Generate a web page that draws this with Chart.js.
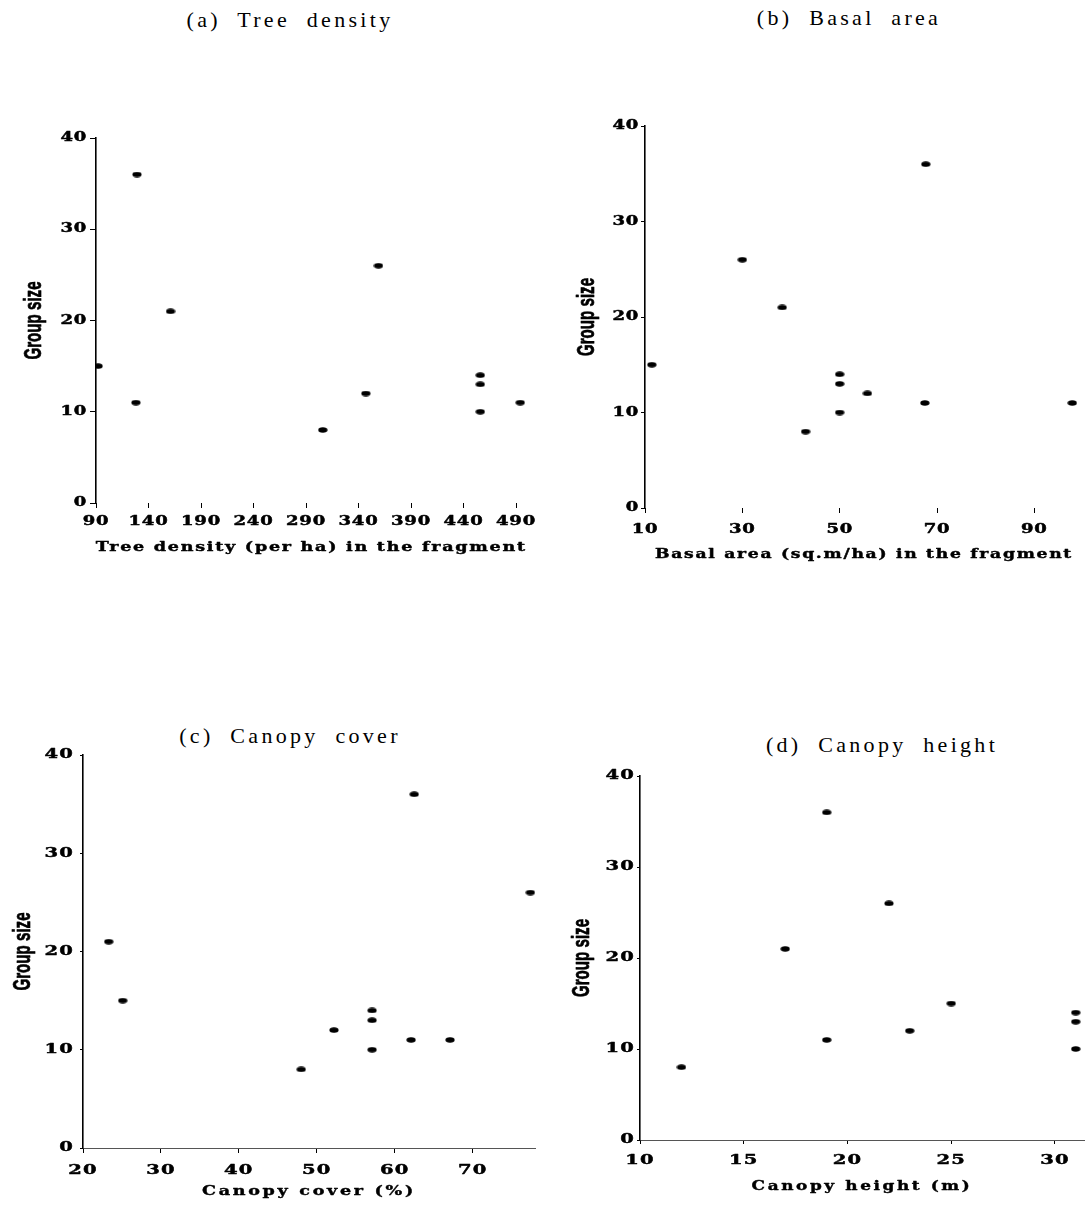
<!DOCTYPE html>
<html>
<head>
<meta charset="utf-8">
<script src="https://cdn.jsdelivr.net/npm/chart.js@4.4.1/dist/chart.umd.min.js"></script>
<style>
  html, body { margin: 0; padding: 0; background: #fff; }
  body { position: relative; width: 1089px; height: 1210px; overflow: hidden; }
  .panel { position: absolute; }
  .title {
    position: absolute; transform: translate(-50%, -50%);
    font-family: 'Liberation Serif', 'Times New Roman', serif;
    font-size: 22px; letter-spacing: 3.3px; word-spacing: 8px;
    white-space: nowrap; color: #000;
  }
</style>
</head>
<body>
<div class="title" style="left:290px; top:20px;">(a) Tree density</div>
<div class="title" style="left:849px; top:18px;">(b) Basal area</div>
<div class="title" style="left:290px; top:736px;">(c) Canopy cover</div>
<div class="title" style="left:882px; top:745px;">(d) Canopy height</div>

<div class="panel" style="left:0px; top:0px; width:545px; height:600px;"><canvas id="chartA"></canvas></div>
<div class="panel" style="left:550px; top:0px; width:539px; height:600px;"><canvas id="chartB"></canvas></div>
<div class="panel" style="left:0px; top:610px; width:545px; height:600px;"><canvas id="chartC"></canvas></div>
<div class="panel" style="left:550px; top:610px; width:539px; height:600px;"><canvas id="chartD"></canvas></div>

<script>
// ---- data: habitat variable of each fragment vs. group size ----
const treeDensity  = [92, 129, 128, 161, 306, 347, 359, 456, 456, 456, 494];
const groupTree    = [15, 36, 11, 21, 8, 12, 26, 14, 13, 10, 11];

const basalArea    = [11.4, 30, 38.2, 43, 50, 50, 50, 55.7, 67.7, 67.5, 97.8];
const groupBasal   = [15, 26, 21, 8, 14, 13, 10, 12, 36, 11, 11];

const canopyCover  = [23.3, 25.1, 48, 52.2, 57.1, 57.1, 57.1, 62.1, 62.5, 67.1, 77.4];
const groupCover   = [21, 15, 8, 12, 14, 13, 10, 11, 36, 11, 26];

const canopyHeight = [12, 17, 19, 19, 22, 23, 25, 31, 31, 31];
const groupHeight  = [8, 21, 36, 11, 26, 12, 15, 14, 13, 10];

// ---- tick labels ----
const ticksTree   = [90, 140, 190, 240, 290, 340, 390, 440, 490];
const ticksBasal  = [10, 30, 50, 70, 90];
const ticksCover  = [20, 30, 40, 50, 60, 70];
const ticksHeight = [10, 15, 20, 25, 30];
const ticksGroup  = [0, 10, 20, 30, 40];

// small filled ellipse used as the marker
const dot = document.createElement('canvas');
dot.width = 10; dot.height = 6;
(function () {
  const c = dot.getContext('2d');
  c.fillStyle = '#000';
  c.beginPath();
  c.ellipse(5, 3, 4.6, 2.8, 0, 0, Math.PI * 2);
  c.fill();
})();

// Text on these charts is horizontally stretched (wide bold serif labels)
// or squeezed (condensed axis title) and drawn extra heavy:
// ctx.$sx holds the width factor, ctx.$heavy the extra outline width.
function patchContext(ctx) {
  if (ctx.$patched) return;
  const fill = ctx.fillText.bind(ctx);
  ctx.$sx = 1;
  ctx.$heavy = 0;
  ctx.fillText = function (t, x, y) {
    ctx.save();
    ctx.translate(x, y);
    ctx.scale(ctx.$sx, 1);
    fill(t, 0, 0);
    if (ctx.$heavy > 0) {
      ctx.lineWidth = ctx.$heavy;
      ctx.lineJoin = 'round';
      ctx.strokeStyle = ctx.fillStyle;
      ctx.strokeText(t, 0, 0);
    }
    ctx.restore();
  };
  ctx.$patched = true;
}

function wrapTitle(scale, spacing, sx, heavy) {
  const orig = scale.drawTitle;
  scale.drawTitle = function () {
    const ctx = this.ctx;
    const prev = [ctx.letterSpacing, ctx.$sx, ctx.$heavy];
    ctx.letterSpacing = spacing;
    ctx.$sx = sx;
    ctx.$heavy = heavy;
    orig.call(this);
    [ctx.letterSpacing, ctx.$sx, ctx.$heavy] = prev;
  };
  scale.$wrapped = true;
}

const textStylePlugin = {
  id: 'textStyle',
  beforeDraw(chart, args, opts) {
    const ctx = chart.ctx;
    patchContext(ctx);
    ctx.letterSpacing = opts.tickSpacing;
    ctx.$sx = opts.tickSx;
    ctx.$heavy = 0.45;
    const { x, y } = chart.scales;
    if (!y.$wrapped) {
      wrapTitle(y, '0px', 0.63, 0.7);
      wrapTitle(x, opts.titleSpacing, opts.titleSx, 0.4);
    }
  },
  afterDraw(chart) {
    const ctx = chart.ctx;
    ctx.$sx = 1;
    ctx.$heavy = 0;
    ctx.letterSpacing = '0px';
  }
};

const serifBold = "'DejaVu Serif', 'Liberation Serif', serif";
const sansBold = "'Liberation Sans', Arial, sans-serif";

function makePanel(id, xs, ys, xTicks, xMin, xMax, xTitle, L) {
  const points = xs.map((v, i) => ({ x: v, y: ys[i] }));
  return new Chart(document.getElementById(id), {
    type: 'scatter',
    data: {
      datasets: [{
        data: points,
        pointStyle: dot,
        pointRadius: 4,
        pointHoverRadius: 4,
        backgroundColor: '#000',
        borderColor: '#000'
      }]
    },
    plugins: [textStylePlugin],
    options: {
      responsive: true,
      maintainAspectRatio: false,
      animation: false,
      events: [],
      layout: { padding: { top: L.padTop, right: L.padRight, bottom: L.padBottom, left: 0 } },
      plugins: {
        legend: { display: false },
        tooltip: { enabled: false },
        textStyle: {
          tickSpacing: L.tickSpacing, tickSx: L.tickSx,
          titleSpacing: L.titleSpacing, titleSx: L.titleSx
        }
      },
      scales: {
        x: {
          type: 'linear',
          min: xMin, max: xMax,
          afterBuildTicks: s => { s.ticks = xTicks.map(v => ({ value: v })); },
          afterFit: s => { s.height = 60; },
          border: L.xBorder,
          grid: { display: true, drawOnChartArea: false, drawTicks: true, tickLength: L.xTickLen, color: '#000', lineWidth: 1 },
          ticks: {
            color: '#000', padding: L.xTickPad, maxRotation: 0, autoSkip: false,
            font: { family: serifBold, weight: 'bold', size: L.tickSize }
          },
          title: {
            display: true, text: xTitle, color: '#000',
            padding: { top: 0, bottom: L.xTitlePad },
            font: { family: serifBold, weight: 'bold', size: L.xTitleSize }
          }
        },
        y: {
          type: 'linear',
          min: 0, max: 40,
          afterBuildTicks: s => { s.ticks = ticksGroup.map(v => ({ value: v })); },
          afterFit: s => { s.width = L.yWidth; },
          border: { display: true, color: '#000', width: 1.6 },
          grid: { display: true, drawOnChartArea: false, drawTicks: true, tickLength: L.yTickLen, color: '#000', lineWidth: 1 },
          ticks: {
            color: '#000', padding: L.yTickPad,
            font: { family: serifBold, weight: 'bold', size: L.tickSize }
          },
          title: {
            display: true, text: 'Group size', color: '#000',
            padding: { top: L.yTitlePad, bottom: 0 },
            font: { family: sansBold, weight: 'bold', size: 24 }
          }
        }
      }
    }
  });
}

const noAxisLine = { display: false };
const dottedAxisLine = { display: true, color: '#555', width: 1, dash: [3, 2] };

makePanel('chartA', treeDensity, groupTree, ticksTree, 90, 500,
  'Tree density (per ha) in the fragment', {
    padTop: 138, padRight: 18.5, padBottom: 37, yWidth: 96,
    yTitlePad: 20, yTickLen: 6, yTickPad: 3,
    xTickLen: 5, xTickPad: 7, xTitlePad: 8, xBorder: noAxisLine,
    tickSize: 12, xTitleSize: 12, tickSpacing: '0.5px', tickSx: 1.5,
    titleSpacing: '1.2px', titleSx: 1.46
  });

makePanel('chartB', basalArea, groupBasal, ticksBasal, 10, 100,
  'Basal area (sq.m/ha) in the fragment', {
    padTop: 126, padRight: 6, padBottom: 32, yWidth: 95,
    yTitlePad: 23, yTickLen: 4, yTickPad: 2,
    xTickLen: 5, xTickPad: 9.5, xTitlePad: 6, xBorder: noAxisLine,
    tickSize: 12, xTitleSize: 12, tickSpacing: '0.5px', tickSx: 1.5,
    titleSpacing: '1.2px', titleSx: 1.43
  });

makePanel('chartC', canopyCover, groupCover, ticksCover, 20, 78,
  'Canopy cover (%)', {
    padTop: 145, padRight: 10, padBottom: 2, yWidth: 83,
    yTitlePad: 9, yTickLen: 3, yTickPad: 6,
    xTickLen: 5, xTickPad: 10, xTitlePad: 9, xBorder: dottedAxisLine,
    tickSize: 13, xTitleSize: 13, tickSpacing: '0.8px', tickSx: 1.5,
    titleSpacing: '2px', titleSx: 1.35
  });

makePanel('chartD', canopyHeight, groupHeight, ticksHeight, 10, 31.4,
  'Canopy height (m)', {
    padTop: 166, padRight: 3, padBottom: 10, yWidth: 90,
    yTitlePad: 18, yTickLen: 3, yTickPad: 2,
    xTickLen: 4, xTickPad: 9, xTitlePad: 6, xBorder: dottedAxisLine,
    tickSize: 13, xTitleSize: 13, tickSpacing: '0.8px', tickSx: 1.5,
    titleSpacing: '2px', titleSx: 1.3
  });
</script>
</body>
</html>
